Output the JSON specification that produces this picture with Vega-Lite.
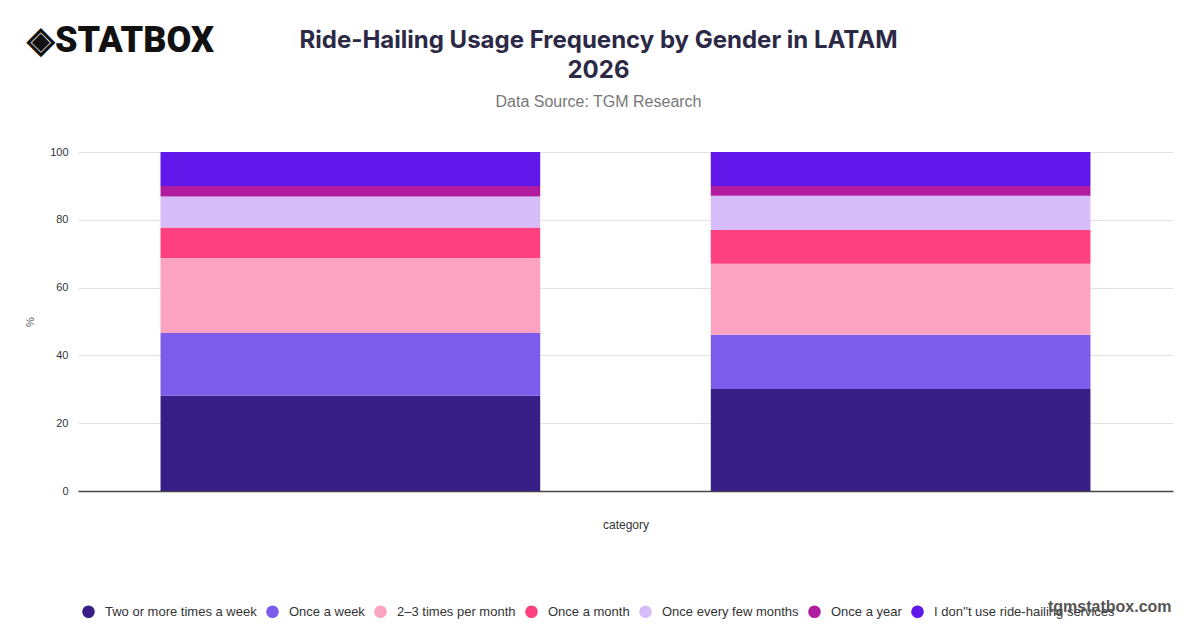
{
  "$schema": "https://vega.github.io/schema/vega-lite/v6.json",
  "description": "Ride-hailing usage frequency by gender in LATAM, 2026, stacked to 100%.",
  "width": 1200,
  "height": 628,
  "autosize": {"type": "fit", "contains": "padding"},
  "padding": {"left": 24, "right": 27, "top": 29, "bottom": 98},
  "background": "white",
  "title": {
    "text": ["Ride-Hailing Usage Frequency by Gender in LATAM", "2026"],
    "subtitle": "Data Source: TGM Research",
    "anchor": "middle",
    "frame": "group",
    "dx": -27,
    "offset": 36,
    "font": "Inter",
    "fontSize": 24,
    "fontWeight": "bold",
    "color": "#2b2945",
    "lineHeight": 30,
    "subtitleFont": "Liberation Sans",
    "subtitleFontSize": 16,
    "subtitleColor": "#777777",
    "subtitlePadding": 11
  },
  "layer": [
    {
      "data": {
        "values": [
          {"gender": "Male", "frequency": "Two or more times a week", "rank": 1, "share": 28.2},
          {"gender": "Male", "frequency": "Once a week", "rank": 2, "share": 18.4},
          {"gender": "Male", "frequency": "2–3 times per month", "rank": 3, "share": 22.1},
          {"gender": "Male", "frequency": "Once a month", "rank": 4, "share": 9.0},
          {"gender": "Male", "frequency": "Once every few months", "rank": 5, "share": 9.2},
          {"gender": "Male", "frequency": "Once a year", "rank": 6, "share": 3.1},
          {"gender": "Male", "frequency": "I don''t use ride-hailing services", "rank": 7, "share": 10.0},
          {"gender": "Female", "frequency": "Two or more times a week", "rank": 1, "share": 30.1},
          {"gender": "Female", "frequency": "Once a week", "rank": 2, "share": 16.0},
          {"gender": "Female", "frequency": "2–3 times per month", "rank": 3, "share": 20.9},
          {"gender": "Female", "frequency": "Once a month", "rank": 4, "share": 10.0},
          {"gender": "Female", "frequency": "Once every few months", "rank": 5, "share": 10.1},
          {"gender": "Female", "frequency": "Once a year", "rank": 6, "share": 2.9},
          {"gender": "Female", "frequency": "I don''t use ride-hailing services", "rank": 7, "share": 10.0}
        ]
      },
      "mark": {"type": "bar"},
      "encoding": {
        "x": {
          "field": "gender",
          "type": "nominal",
          "sort": ["Male", "Female"],
          "title": "category",
          "scale": {"paddingInner": 0.31, "paddingOuter": 0.15},
          "axis": {
            "labels": false,
            "ticks": false,
            "domainColor": "#444444",
            "domainWidth": 1.5,
            "titleFont": "Liberation Sans",
            "titleFontSize": 12,
            "titleFontWeight": "normal",
            "titleColor": "#333333",
            "titlePadding": 28
          }
        },
        "y": {
          "field": "share",
          "type": "quantitative",
          "stack": "zero",
          "title": "%",
          "scale": {"domain": [0, 100]},
          "axis": {
            "values": [0, 20, 40, 60, 80, 100],
            "domain": false,
            "ticks": false,
            "gridColor": "#e2e2e2",
            "labelFont": "Liberation Sans",
            "labelFontSize": 11,
            "labelColor": "#333333",
            "labelPadding": 10,
            "titleFont": "Liberation Sans",
            "titleFontSize": 11,
            "titleFontWeight": "normal",
            "titleColor": "#555555",
            "titlePadding": 14
          }
        },
        "order": {"field": "rank", "type": "quantitative"},
        "color": {
          "field": "frequency",
          "type": "nominal",
          "scale": {
            "domain": ["Two or more times a week", "Once a week", "2–3 times per month", "Once a month", "Once every few months", "Once a year", "I don''t use ride-hailing services"],
            "range": ["#381e87", "#7c5deb", "#fca3c2", "#fe4081", "#d6bdfa", "#b01ba0", "#5f17ea"]
          },
          "legend": {
            "title": null,
            "orient": "none",
            "legendX": 4,
            "legendY": 453,
            "direction": "horizontal",
            "columns": 7,
            "padding": 0,
            "symbolType": "circle",
            "symbolSize": 160,
            "symbolStrokeWidth": 0,
            "labelFont": "Liberation Sans",
            "labelFontSize": 13,
            "labelColor": "#333333",
            "labelOffset": 10,
            "columnPadding": 9,
            "labelLimit": 300
          }
        }
      }
    },
    {
      "data": {"values": [{"logo": "brand", "site": "site"}]},
      "mark": {"type": "point", "filled": true, "opacity": 0},
      "encoding": {
        "shape": {
          "field": "logo",
          "type": "nominal",
          "legend": {
            "title": "◈STATBOX",
            "orient": "none",
            "legendX": -51,
            "legendY": -128,
            "padding": 0,
            "titleFont": "Roboto",
            "titleFontSize": 36,
            "titleFontWeight": 900,
            "titleColor": "#111111",
            "titleLimit": 400,
            "symbolOpacity": 0,
            "symbolSize": 1,
            "labelExpr": "''"
          }
        },
        "size": {
          "field": "site",
          "type": "ordinal",
          "legend": {
            "title": "tgmstatbox.com",
            "orient": "none",
            "legendX": 970,
            "legendY": 447,
            "padding": 0,
            "titleFont": "Liberation Sans",
            "titleFontSize": 16,
            "titleFontWeight": "bold",
            "titleColor": "#555555",
            "titleLimit": 300,
            "symbolOpacity": 0,
            "labelExpr": "''"
          }
        }
      }
    }
  ],
  "config": {
    "view": {"stroke": null}
  }
}
